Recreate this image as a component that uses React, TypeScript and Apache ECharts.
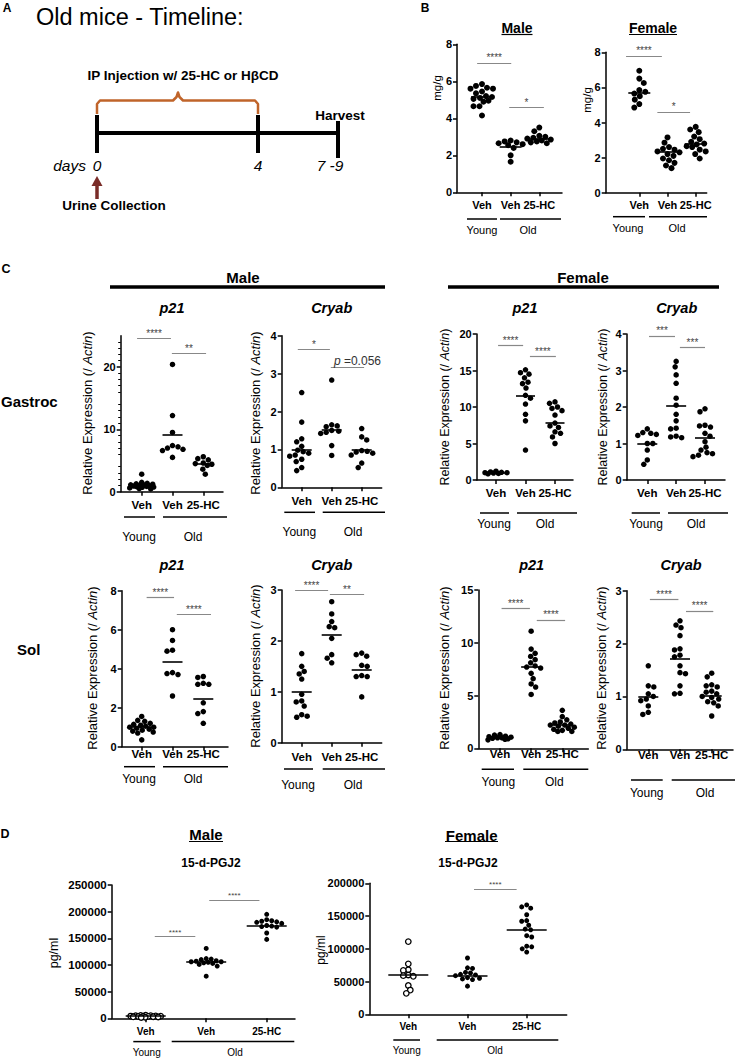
import React, { useEffect, useRef } from "react";
import * as echarts from "echarts";

const FONT = "'Liberation Sans', Arial, Helvetica, sans-serif";

// ---------- labels ----------
const groupLabels = ["Veh", "Veh", "25-HC"];
const ageLabels = ["Young", "Old"];
const yLabelRel = "Relative Expression (/ Actin)";

// ---------- tick labels ----------
const bTicks = [0, 2, 4, 6, 8];
const gmP21Ticks = [0, 10, 20];
const gmCryabTicks = [0, 1, 2, 3, 4];
const gfP21Ticks = [0, 5, 10, 15, 20];
const gfCryabTicks = [0, 1, 2, 3, 4];
const smP21Ticks = [0, 2, 4, 6, 8];
const smCryabTicks = [0, 1, 2, 3];
const sfP21Ticks = [0, 5, 10, 15];
const sfCryabTicks = [0, 1, 2, 3];
const dmTicks = [0, 50000, 100000, 150000, 200000, 250000];
const dfTicks = [0, 50000, 100000, 150000, 200000];

// ---------- B: mg/g ----------
const bMaleYoung = [5.85, 5.75, 5.65, 5.6, 5.6, 5.45, 5.35, 5.2, 5.15, 5.1, 5.05, 4.95, 4.9, 4.65, 4.65, 4.15];
const bMaleOldVeh = [2.8, 2.75, 2.7, 2.65, 2.6, 2.55, 2.4, 2.0, 1.65];
const bMaleOldHC = [3.5, 3.3, 3.05, 3.0, 2.95, 2.9, 2.85, 2.8, 2.75, 2.7, 2.65];
const bMaleMeans = [5.17, 2.47, 2.92];
const bMaleSig: [number, number, number, string][] = [[0.83, 2.02, 7.0, "****"], [1.95, 3.16, 4.6, "*"]];

const bFemaleYoung = [6.95, 6.5, 6.25, 5.85, 5.75, 5.65, 5.5, 5.3, 5.05, 4.85];
const bFemaleOldVeh = [3.15, 2.85, 2.6, 2.5, 2.45, 2.35, 2.3, 2.2, 2.1, 1.95, 1.85, 1.7, 1.55, 1.4];
const bFemaleOldHC = [3.75, 3.6, 3.45, 3.2, 3.05, 2.9, 2.8, 2.75, 2.65, 2.6, 2.45, 2.35, 2.2, 1.95];
const bFemaleMeans = [5.7, 2.34, 2.81];
const bFemaleSig: [number, number, number, string][] = [[0.53, 1.8, 7.8, "****"], [1.64, 2.8, 4.6, "*"]];

// ---------- C: Gastroc ----------
const gmP21Young = [2.8, 1.5, 1.35, 1.25, 1.2, 1.1, 1.05, 1.0, 0.95, 0.9, 0.85, 0.8, 0.75, 0.7, 0.6, 0.5, 0.45];
const gmP21OldVeh = [20.4, 12.2, 9.5, 7.4, 7.2, 7.0, 6.8, 6.6, 5.5];
const gmP21OldHC = [5.6, 5.3, 5.1, 4.6, 4.5, 4.4, 4.2, 3.6, 2.8];
const gmP21Means = [1.0, 9.17, 4.43];
const gmP21Sig: [number, number, number, string][] = [[0.85, 1.95, 24.6, "****"], [1.98, 3.09, 22.2, "**"]];

const gmCryabYoung = [2.5, 1.72, 1.28, 1.2, 1.08, 0.98, 0.94, 0.9, 0.85, 0.82, 0.74, 0.68, 0.52, 0.44];
const gmCryabOldVeh = [2.83, 1.65, 1.62, 1.6, 1.5, 1.48, 1.45, 1.42, 1.1, 0.84];
const gmCryabOldHC = [1.55, 1.33, 1.25, 0.97, 0.95, 0.93, 0.9, 0.85, 0.64, 0.52];
const gmCryabMeans = [1.0, 1.51, 0.98];
const gmCryabSig: [number, number, number, string][] = [[0.87, 1.94, 3.64, "*"], [1.97, 3.08, 3.18, "p =0.056"]];

const gfP21Young = [1.2, 1.1, 1.05, 1.0, 1.0, 0.95, 0.9, 0.85];
const gfP21OldVeh = [15.1, 14.7, 14.5, 14.0, 13.4, 13.2, 12.6, 11.6, 11.2, 10.4, 9.0, 8.1, 4.1];
const gfP21OldHC = [10.7, 10.5, 10.0, 9.8, 9.5, 8.9, 7.8, 7.4, 7.2, 6.6, 6.4, 5.9, 5.0];
const gfP21Means = [1.0, 11.5, 7.85];
const gfP21Sig: [number, number, number, string][] = [[1.07, 1.92, 18.4, "****"], [2.15, 3.03, 16.9, "****"]];

const gfCryabYoung = [1.4, 1.3, 1.28, 1.25, 1.22, 1.0, 1.0, 0.82, 0.55, 0.43];
const gfCryabOldVeh = [3.25, 3.1, 2.88, 2.65, 2.24, 2.05, 1.8, 1.62, 1.42, 1.4, 1.2, 1.18, 1.16];
const gfCryabOldHC = [1.95, 1.87, 1.5, 1.48, 1.45, 1.28, 1.2, 1.05, 0.9, 0.82, 0.75, 0.72, 0.68, 0.64];
const gfCryabMeans = [1.0, 2.03, 1.16];
const gfCryabSig: [number, number, number, string][] = [[1.06, 1.96, 3.95, "***"], [2.13, 3.0, 3.63, "***"]];

// ---------- C: Sol ----------
const smP21Young = [1.55, 1.35, 1.3, 1.2, 1.15, 1.1, 1.05, 1.0, 1.0, 0.95, 0.9, 0.85, 0.8, 0.75, 0.7, 0.35];
const smP21OldVeh = [6.0, 5.45, 4.95, 4.9, 3.8, 3.75, 3.7, 2.6];
const smP21OldHC = [3.6, 3.55, 3.25, 3.2, 3.2, 2.25, 1.8, 1.7, 1.2];
const smP21Means = [1.0, 4.34, 2.46];
const smP21Sig: [number, number, number, string][] = [[1.16, 2.05, 7.66, "****"], [2.14, 3.25, 6.8, "****"]];

const smCryabYoung = [1.75, 1.5, 1.4, 1.35, 1.25, 0.95, 0.82, 0.8, 0.72, 0.55, 0.52, 0.5];
const smCryabOldVeh = [2.77, 2.53, 2.38, 2.28, 2.26, 2.05, 1.73, 1.66, 1.57];
const smCryabOldHC = [1.76, 1.73, 1.7, 1.52, 1.5, 1.32, 1.3, 1.3, 0.9];
const smCryabMeans = [1.0, 2.12, 1.44];
const smCryabSig: [number, number, number, string][] = [[0.78, 1.88, 3.0, "****"], [1.94, 3.08, 2.92, "**"]];

const sfP21Young = [1.3, 1.25, 1.15, 1.1, 1.05, 1.0, 1.0, 0.95, 0.9, 0.85, 0.8];
const sfP21OldVeh = [11.1, 9.4, 9.0, 8.7, 8.4, 8.1, 7.8, 7.7, 7.6, 7.1, 6.6, 6.1, 5.8, 5.1];
const sfP21OldHC = [3.6, 3.0, 2.7, 2.5, 2.4, 2.3, 2.2, 2.2, 2.1, 2.0, 1.9, 1.8, 1.7, 1.6, 1.6];
const sfP21Means = [1.0, 7.74, 2.2];
const sfP21Sig: [number, number, number, string][] = [[1.05, 1.96, 13.26, "****"], [2.18, 3.09, 12.16, "****"]];

const sfCryabYoung = [1.58, 1.2, 1.18, 1.05, 1.0, 0.95, 0.92, 0.82, 0.7, 0.66];
const sfCryabOldVeh = [2.43, 2.35, 2.3, 2.15, 1.9, 1.88, 1.78, 1.75, 1.58, 1.45, 1.43, 1.2, 1.06, 1.05];
const sfCryabOldHC = [1.44, 1.37, 1.22, 1.2, 1.18, 1.1, 1.08, 1.05, 1.0, 0.98, 0.95, 0.9, 0.88, 0.82, 0.63];
const sfCryabMeans = [1.0, 1.71, 1.02];
const sfCryabSig: [number, number, number, string][] = [[1.05, 1.95, 2.84, "****"], [2.19, 3.05, 2.62, "****"]];

// ---------- D: 15-d-PGJ2 ----------
const dmYoung = [6000, 5500, 5000, 4800, 4500, 4200, 4000, 3800, 3500, 3300, 3000, 2800, 2500, 2000, 1500];
const dmOldVeh = [131000, 112000, 111000, 110000, 108000, 107000, 106000, 106000, 105000, 104000, 103000, 101000, 98000, 79000];
const dmOldHC = [195000, 185000, 183000, 182000, 181000, 180000, 178000, 174000, 173000, 172000, 171000, 160000, 148000];
const dmMeans = [4000, 106000, 174000];
const dmSig: [number, number, number, string][] = [[1.15, 1.82, 153000, "****"], [2.05, 2.88, 222000, "****"]];

const dfYoung = [111000, 77000, 68000, 67000, 60000, 59000, 58000, 44000, 37000, 32000];
const dfOldVeh = [86000, 71000, 70000, 64000, 63000, 61000, 60000, 59000, 56000, 55000, 54000, 53000, 43000];
const dfOldHC = [167000, 164000, 162000, 152000, 143000, 142000, 136000, 130000, 129000, 120000, 118000, 104000, 103000, 100000, 95000];
const dfMeans = [60000, 59500, 129500];
const dfSig: [number, number, number, string][] = [[2.11, 2.83, 191400, "****"]];

// ---------- layout (pixels) ----------
const PANELS: any[] = [
  { groups: [bMaleYoung, bMaleOldVeh, bMaleOldHC], means: bMaleMeans, sig: bMaleSig, ticks: bTicks, ymax: 8,
    left: 457, right: 562, top: 44.3, bottom: 192.3, t1: 482, t3: 539.3, dot: 6, hw: 11, cap: 12,
    labDy: 12.7, lineDy: 26.7, txtDy: 37.7, yLine: [467, 497], oLine: [500, 561], yTx: 482, oTx: 528,
    xFs: 11, gFs: 11, yFs: 11, sFs: 10, name: "mg/g", nameX: 437, nameY: 88, nameFs: 11.5 },
  { groups: [bFemaleYoung, bFemaleOldVeh, bFemaleOldHC], means: bFemaleMeans, sig: bFemaleSig, ticks: bTicks, ymax: 8,
    left: 605.7, right: 706.7, top: 52.3, bottom: 192.7, t1: 639.3, t3: 695.7, dot: 6, hw: 11, cap: 12,
    labDy: 12.3, lineDy: 24, txtDy: 35.3, yLine: [613, 645], oLine: [649, 707], yTx: 628, oTx: 677,
    xFs: 11, gFs: 11, yFs: 11, sFs: 10, name: "mg/g", nameX: 587, nameY: 100, nameFs: 11.5 },
  { groups: [gmP21Young, gmP21OldVeh, gmP21OldHC], means: gmP21Means, sig: gmP21Sig, ticks: gmP21Ticks, ymax: 25, minor: true,
    left: 120.7, right: 223, top: 335.7, bottom: 491.7, t1: 141.7, t3: 203.3, dot: 5.5, hw: 10, cap: 12,
    labDy: 13.3, lineDy: 25.3, txtDy: 45, yLine: [124, 155], oLine: [163, 227], yTx: 139, oTx: 193,
    xFs: 11.5, gFs: 12, yFs: 11, sFs: 10, rel: true, nameX: 87, nameY: 413, nameFs: 13 },
  { groups: [gmCryabYoung, gmCryabOldVeh, gmCryabOldHC], means: gmCryabMeans, sig: gmCryabSig, ticks: gmCryabTicks, ymax: 4,
    left: 281.7, right: 381.7, top: 335.7, bottom: 487.3, t1: 301.7, t3: 361.7, dot: 5.5, hw: 10, cap: 12,
    labDy: 13.7, lineDy: 25, txtDy: 45, yLine: [284.3, 315], oLine: [322.7, 385], yTx: 299.3, oTx: 353,
    xFs: 11.5, gFs: 12, yFs: 11, sFs: 10, rel: true, nameX: 255, nameY: 413, nameFs: 13 },
  { groups: [gfP21Young, gfP21OldVeh, gfP21OldHC], means: gfP21Means, sig: gfP21Sig, ticks: gfP21Ticks, ymax: 20,
    left: 476.7, right: 573, top: 334, bottom: 480, t1: 496, t3: 555, dot: 5.5, hw: 9.5, cap: 12,
    labDy: 13, lineDy: 33, txtDy: 44, yLine: [480, 509], oLine: [517, 577], yTx: 494, oTx: 545,
    xFs: 11.5, gFs: 12, yFs: 11, sFs: 10, rel: true, nameX: 445, nameY: 407, nameFs: 12.5 },
  { groups: [gfCryabYoung, gfCryabOldVeh, gfCryabOldHC], means: gfCryabMeans, sig: gfCryabSig, ticks: gfCryabTicks, ymax: 4,
    left: 626.7, right: 725, top: 334, bottom: 480, t1: 647.3, t3: 705, dot: 5.5, hw: 10, cap: 12,
    labDy: 13, lineDy: 33, txtDy: 44, yLine: [631.7, 660], oLine: [668, 728], yTx: 646, oTx: 696,
    xFs: 11.5, gFs: 12, yFs: 11, sFs: 10, rel: true, nameX: 602.7, nameY: 407, nameFs: 12.5 },
  { groups: [smP21Young, smP21OldVeh, smP21OldHC], means: smP21Means, sig: smP21Sig, ticks: smP21Ticks, ymax: 8,
    left: 121.7, right: 228, top: 590.7, bottom: 746.7, t1: 141.7, t3: 203.3, dot: 5.5, hw: 10, cap: 12,
    labDy: 7, lineDy: 20, txtDy: 32.7, yLine: [124, 155], oLine: [163, 228], yTx: 139, oTx: 193,
    xFs: 11.5, gFs: 12, yFs: 11, sFs: 10, rel: true, nameX: 92.7, nameY: 668, nameFs: 13 },
  { groups: [smCryabYoung, smCryabOldVeh, smCryabOldHC], means: smCryabMeans, sig: smCryabSig, ticks: smCryabTicks, ymax: 3,
    left: 281.7, right: 381.7, top: 590, bottom: 742.7, t1: 301.7, t3: 361.7, dot: 5.5, hw: 10, cap: 12,
    labDy: 14, lineDy: 26.3, txtDy: 42.3, yLine: [284, 313], oLine: [322.7, 385], yTx: 298, oTx: 353,
    xFs: 11.5, gFs: 12, yFs: 11, sFs: 10, rel: true, nameX: 255, nameY: 666, nameFs: 13 },
  { groups: [sfP21Young, sfP21OldVeh, sfP21OldHC], means: sfP21Means, sig: sfP21Sig, ticks: sfP21Ticks, ymax: 15,
    left: 478.3, right: 588.3, top: 590, bottom: 748.3, t1: 500, t3: 562.3, dot: 5.5, hw: 10, cap: 12,
    labDy: 6, lineDy: 21, txtDy: 33.3, yLine: [481.7, 514], oLine: [523.3, 588.3], yTx: 498.3, oTx: 554.3,
    xFs: 11.5, gFs: 12, yFs: 11, sFs: 10, rel: true, nameX: 444, nameY: 668, nameFs: 13 },
  { groups: [sfCryabYoung, sfCryabOldVeh, sfCryabOldHC], means: sfCryabMeans, sig: sfCryabSig, ticks: sfCryabTicks, ymax: 3,
    left: 626.7, right: 733, top: 590.7, bottom: 749.3, t1: 648.3, t3: 711.7, dot: 5.5, hw: 10, cap: 12,
    labDy: 6, lineDy: 30.7, txtDy: 44, yLine: [631, 662.7], oLine: [671.7, 735], yTx: 646.7, oTx: 705,
    xFs: 11.5, gFs: 12, yFs: 11, sFs: 10, rel: true, nameX: 601.7, nameY: 668, nameFs: 13 },
  { groups: [dmYoung, dmOldVeh, dmOldHC], means: dmMeans, sig: dmSig, ticks: dmTicks, ymax: 250000, hollowYoung: true,
    left: 111.7, right: 295, top: 885, bottom: 1018.3, t1: 145.7, t3: 266.7, dot: 5, hw: 20, cap: 16,
    labDy: 13.3, lineDy: 23.3, txtDy: 34.3, yLine: [133.3, 160.7], oLine: [171.7, 294.3], yTx: 146.7, oTx: 235,
    xFs: 10, gFs: 10, yFs: 11.5, sFs: 8, name: "pg/ml", nameX: 54, nameY: 953, nameFs: 12.5 },
  { groups: [dfYoung, dfOldVeh, dfOldHC], means: dfMeans, sig: dfSig, ticks: dfTicks, ymax: 200000, hollowYoung: true,
    left: 369.3, right: 566.7, top: 883.3, bottom: 1014.3, t1: 408.3, t3: 526.7, dot: 5, hw: 20, cap: 16,
    labDy: 12.3, lineDy: 25.7, txtDy: 35.7, yLine: [393.3, 420], oLine: [436.7, 558.3], yTx: 406.7, oTx: 495,
    xFs: 10, gFs: 10, yFs: 11, sFs: 8, name: "pg/ml", nameX: 320.7, nameY: 950, nameFs: 12 },
];

// beeswarm: horizontal pixel offsets derived from values so dots do not overlap
function swarm(values: number[], pxPerUnit: number, dot: number, cap: number): number[] {
  const idx = values.map((_, i) => i).sort((a, b) => values[b] - values[a]);
  const placed: { x: number; y: number }[] = [];
  const out = new Array(values.length).fill(0);
  const step = 0.5;
  let flip = 1;
  for (const i of idx) {
    const y = values[i] * pxPerUnit;
    let chosen: number | null = null;
    let bestX = 0;
    let bestD = -1;
    for (let k = 0; k * step <= cap && chosen === null; k++) {
      const cands = k === 0 ? [0] : [flip * k * step, -flip * k * step];
      for (const c of cands) {
        let minD = Infinity;
        for (const p of placed) {
          const d = Math.hypot(p.x - c, p.y - y);
          if (d < minD) minD = d;
        }
        if (minD >= dot) { chosen = c; break; }
        if (minD > bestD) { bestD = minD; bestX = c; }
      }
    }
    const x = chosen !== null ? chosen : bestX;
    placed.push({ x, y });
    out[i] = x;
    flip = -flip;
  }
  return out;
}

function txt(x: number, y: number, text: string, size: number, opts: any = {}) {
  const { weight = "normal", style = "normal", align = "center", valign = "middle", rotation = 0, fill = "#000" } = opts;
  return {
    type: "text", x, y, rotation, silent: true,
    style: {
      text, fill, fontSize: size, fontFamily: FONT, fontWeight: weight, fontStyle: style,
      align, verticalAlign: valign, textAlign: align, textVerticalAlign: valign,
    },
  };
}
function ln(x1: number, y1: number, x2: number, y2: number, w: number, color = "#000") {
  return { type: "line", silent: true, shape: { x1, y1, x2, y2 }, style: { stroke: color, lineWidth: w } };
}

function buildOption() {
  const grid: any[] = [];
  const xAxis: any[] = [];
  const yAxis: any[] = [];
  const series: any[] = [];
  const graphic: any[] = [];

  PANELS.forEach((p, gi) => {
    const s = (p.t3 - p.t1) / 2;
    const xmin = 1 - (p.t1 - p.left) / s;
    const xmax = 3 + (p.right - p.t3) / s;
    const pyu = (p.bottom - p.top) / p.ymax;
    grid.push({ left: p.left, top: p.top, width: p.right - p.left, height: p.bottom - p.top, containLabel: false });
    xAxis.push({
      type: "value", gridIndex: gi, min: xmin, max: xmax,
      splitLine: { show: false },
      axisLine: { show: true, onZero: false, lineStyle: { color: "#000", width: 1.5 } },
      axisTick: { show: true, customValues: [1, 2, 3], length: 4, lineStyle: { color: "#000", width: 1.5 } },
      axisLabel: {
        show: true, customValues: [1, 2, 3], formatter: (v: number) => groupLabels[Math.round(v) - 1] ?? "",
        margin: p.labDy, verticalAlign: "middle", fontFamily: FONT, fontWeight: "bold", fontSize: p.xFs, color: "#000",
      },
    });
    yAxis.push({
      type: "value", gridIndex: gi, min: 0, max: p.ymax, interval: p.minor ? 5 : undefined,
      splitLine: { show: false },
      axisLine: { show: true, onZero: false, lineStyle: { color: "#000", width: 1.5 } },
      axisTick: { show: true, customValues: p.ticks, length: 4, lineStyle: { color: "#000", width: 1.5 } },
      minorTick: p.minor ? { show: true, splitNumber: 5, length: 2.5, lineStyle: { color: "#000", width: 1 } } : { show: false },
      axisLabel: {
        show: true, customValues: p.ticks, formatter: (v: number) => String(v), margin: 5,
        fontFamily: FONT, fontWeight: "bold", fontSize: p.yFs, color: "#000",
      },
    });

    p.groups.forEach((vals: number[], g: number) => {
      const offs = swarm(vals, pyu, p.dot, p.cap);
      const hollow = p.hollowYoung && g === 0;
      const hwU = p.hw / s;
      series.push({
        type: "scatter", xAxisIndex: gi, yAxisIndex: gi, symbol: "circle", symbolSize: hollow ? p.dot + 0.5 : p.dot,
        silent: true, animation: false,
        itemStyle: hollow ? { color: "#fff", borderColor: "#000", borderWidth: 1.3, opacity: 1 } : { color: "#000", opacity: 1 },
        data: vals.map((v, i) => [g + 1 + offs[i] / s, v]),
        markLine: {
          silent: true, animation: false, symbol: ["none", "none"], label: { show: false },
          emphasis: { disabled: true },
          lineStyle: { color: "#000", width: 1.6, type: "solid", opacity: 1 },
          data: [[{ coord: [g + 1 - hwU, p.means[g]] }, { coord: [g + 1 + hwU, p.means[g]] }]],
        },
      });
    });

    const sigLabel = {
      show: true, position: "insideMiddleTop", distance: 0,
      formatter: (prm: any) => (prm.name.startsWith("p") ? "{i|p}{n|" + prm.name.slice(1) + "}" : prm.name),
      fontFamily: FONT, fontSize: p.sFs, color: "#444",
      rich: {
        i: { fontFamily: FONT, fontSize: 12, fontStyle: "italic", color: "#333", padding: [0, 0, 0, 20] },
        n: { fontFamily: FONT, fontSize: 12, color: "#333" },
      },
    };
    series.push({
      type: "scatter", xAxisIndex: gi, yAxisIndex: gi, data: [], silent: true, animation: false,
      itemStyle: { color: "#888" },
      markLine: {
        silent: true, animation: false, symbol: ["none", "none"], emphasis: { disabled: true },
        lineStyle: { color: "#888", width: 1.2, type: "solid" },
        label: sigLabel,
        data: p.sig.map(([a, b, y, t]: [number, number, number, string]) => [
          { name: t, coord: [a, y], label: sigLabel, lineStyle: { color: "#888", width: 1.2 } },
          { coord: [b, y] },
        ]),
      },
    });

    // group underlines and texts
    graphic.push(ln(p.yLine[0], p.bottom + p.lineDy, p.yLine[1], p.bottom + p.lineDy, 1.5));
    graphic.push(ln(p.oLine[0], p.bottom + p.lineDy, p.oLine[1], p.bottom + p.lineDy, 1.5));
    graphic.push(txt(p.yTx, p.bottom + p.txtDy, ageLabels[0], p.gFs));
    graphic.push(txt(p.oTx, p.bottom + p.txtDy, ageLabels[1], p.gFs));
    // y axis name
    if (p.rel) {
      const parts = yLabelRel.split("Actin");
      graphic.push({
        type: "text", x: p.nameX, y: p.nameY, rotation: Math.PI / 2, silent: true,
        style: {
          text: "{n|" + parts[0] + "}{i|Actin}{n|" + parts[1] + "}",
          rich: {
            n: { fontSize: p.nameFs, fontFamily: FONT, fill: "#000" },
            i: { fontSize: p.nameFs, fontFamily: FONT, fontStyle: "italic", fill: "#000" },
          },
          fill: "#000", fontSize: p.nameFs, fontFamily: FONT,
          align: "center", verticalAlign: "middle", textAlign: "center", textVerticalAlign: "middle",
        },
      });
    } else {
      graphic.push(txt(p.nameX, p.nameY, p.name, p.nameFs, { rotation: Math.PI / 2 }));
    }
  });

  // ---------- Panel A: timeline ----------
  const orange = "#c0642a";
  const brown = "#7a2c28";
  graphic.push(txt(7, 8, "A", 12, { weight: "bold" }));
  graphic.push(txt(36, 17, "Old mice - Timeline:", 23.5, { align: "left" }));
  graphic.push(txt(183, 75, "IP Injection w/ 25-HC or H\u03B2CD", 13.5, { weight: "bold" }));
  graphic.push({
    type: "polyline", silent: true,
    shape: { points: [[97, 114], [97, 104], [100, 100.5], [173, 100.5], [176.5, 97], [178, 92.5], [179.5, 97], [183, 100.5], [255, 100.5], [258, 104], [258, 114]] },
    style: { stroke: orange, lineWidth: 2.5, fill: "none", lineJoin: "round" },
  });
  graphic.push(ln(97, 133, 338, 133, 4));
  graphic.push(ln(97, 115, 97, 153, 4));
  graphic.push(ln(258, 115, 258, 153, 4));
  graphic.push(ln(338, 121, 338, 158, 4));
  graphic.push(txt(340, 115, "Harvest", 13.5, { weight: "bold" }));
  graphic.push(txt(86, 165, "days", 15.5, { style: "italic", align: "right" }));
  graphic.push(txt(97, 165, "0", 15.5, { style: "italic" }));
  graphic.push(txt(258, 165, "4", 15.5, { style: "italic" }));
  graphic.push(txt(330, 165, "7 -9", 15.5, { style: "italic" }));
  graphic.push(ln(97, 184, 97, 199, 3.5, brown));
  graphic.push({ type: "polygon", silent: true, shape: { points: [[97, 176], [91.5, 186], [102.5, 186]] }, style: { fill: brown } });
  graphic.push(txt(114, 205, "Urine Collection", 13.5, { weight: "bold" }));

  // ---------- Panel B headings ----------
  graphic.push(txt(425, 8, "B", 12, { weight: "bold" }));
  graphic.push(txt(517, 28, "Male", 14, { weight: "bold" }));
  graphic.push(ln(501.5, 34.5, 532.5, 34.5, 1.2));
  graphic.push(txt(653, 28, "Female", 14, { weight: "bold" }));
  graphic.push(ln(629, 34.5, 677, 34.5, 1.2));

  // ---------- Panel C headings ----------
  graphic.push(txt(6, 269, "C", 12.5, { weight: "bold" }));
  graphic.push(txt(243, 277, "Male", 15, { weight: "bold" }));
  graphic.push(ln(110, 287, 385, 287, 3.5));
  graphic.push(txt(583, 277, "Female", 15, { weight: "bold" }));
  graphic.push(ln(448, 287, 719, 287, 3.5));
  graphic.push(txt(1, 401, "Gastroc", 15, { weight: "bold", align: "left" }));
  graphic.push(txt(17, 649, "Sol", 15, { weight: "bold", align: "left" }));
  const titles: [number, number, string][] = [
    [172, 308, "p21"], [331.7, 308, "Cryab"], [525, 308, "p21"], [676.7, 308, "Cryab"],
    [172, 565, "p21"], [331.7, 565, "Cryab"], [531.7, 565, "p21"], [681, 565, "Cryab"],
  ];
  titles.forEach(([x, y, t]) => graphic.push(txt(x, y, t, 14.5, { weight: "bold", style: "italic" })));

  // ---------- Panel D headings ----------
  graphic.push(txt(5, 834, "D", 12.5, { weight: "bold" }));
  graphic.push(txt(206, 834, "Male", 15, { weight: "bold" }));
  graphic.push(ln(189, 841.5, 223, 841.5, 1.2));
  graphic.push(txt(471.7, 835, "Female", 15, { weight: "bold" }));
  graphic.push(ln(445, 841.5, 498, 841.5, 1.2));
  graphic.push(txt(211, 863, "15-d-PGJ2", 12, { weight: "bold" }));
  graphic.push(txt(468, 863, "15-d-PGJ2", 12, { weight: "bold" }));

  return { animation: false, backgroundColor: "#fff", color: ["#000"], grid, xAxis, yAxis, series, graphic };
}

export default function App() {
  const ref = useRef<HTMLDivElement>(null);
  useEffect(() => {
    document.body.style.margin = "0";
    if (!ref.current) return;
    const chart = echarts.init(ref.current, undefined, { renderer: "svg" });
    chart.setOption(buildOption() as any);
    return () => chart.dispose();
  }, []);
  return <div ref={ref} style={{ width: 737, height: 1061 }} />;
}
